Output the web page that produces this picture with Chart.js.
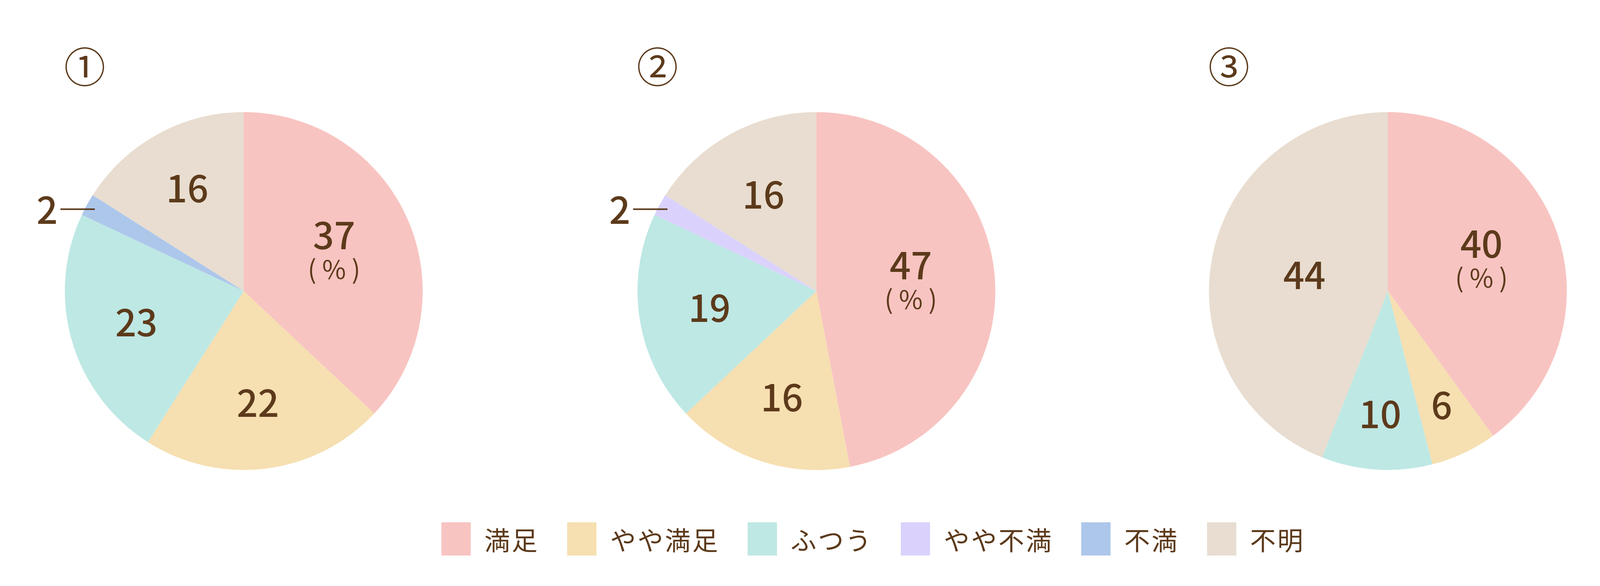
<!DOCTYPE html>
<html lang="ja">
<head>
<meta charset="utf-8">
<script src="https://cdn.jsdelivr.net/npm/chart.js@4/dist/chart.umd.min.js"></script>
<style>
  html, body { margin: 0; padding: 0; background: #fff; }
  #page { position: relative; width: 4167px; height: 1500px; overflow: hidden; font-family: "Noto Sans CJK JP", "Noto Sans", sans-serif; }
  .pie { position: absolute; top: 0; width: 1200px; height: 1300px; }
  #legend { position: absolute; left: 1130px; top: 1337px; display: flex; align-items: center; }
  .item { display: flex; align-items: center; margin-right: 72px; }
  .swatch { width: 75px; height: 85px; }
  .name { margin-left: 35px; font-size: 66px; letter-spacing: 4px; color: #5c3a1b; line-height: 85px; }
</style>
</head>
<body>
<div id="page">
  <div class="pie" style="left:24px"><canvas id="pie1"></canvas></div>
  <div class="pie" style="left:1490px"><canvas id="pie2"></canvas></div>
  <div class="pie" style="left:2953px"><canvas id="pie3"></canvas></div>
  <div id="legend"></div>
</div>
<script>
// answer categories (clockwise from 12 o'clock)
const categories = ['満足', 'やや満足', 'ふつう', 'やや不満', '不満', '不明'];
// percent values per survey
const values1 = [37, 22, 23, 0, 2, 16];
const values2 = [47, 16, 19, 2, 0, 16];
const values3 = [40, 6, 10, 0, 0, 44];
const titles = ['①', '②', '③'];
const unitLabel = '( % )';

const colors = ['#f8c4c1', '#f6dfb1', '#bee8e4', '#dad2fc', '#adc7eb', '#e8ddd0'];
const textColor = '#5c3a1b';
const fontFamily = '"Noto Sans CJK JP", "Noto Sans", sans-serif';

// draws the numbers inside the slices, the leader for tiny ones and the circled title
const sliceLabels = {
  id: 'sliceLabels',
  afterDatasetsDraw(chart, args, opts) {
    const ctx = chart.ctx;
    const meta = chart.getDatasetMeta(0);
    const data = chart.data.datasets[0].data;
    let cx = 0, cy = 0;
    ctx.save();
    ctx.fillStyle = textColor;
    ctx.strokeStyle = textColor;
    ctx.textBaseline = 'middle';
    meta.data.forEach((arc, i) => {
      const v = data[i];
      const p = arc.getProps(['x', 'y', 'startAngle', 'endAngle', 'outerRadius'], true);
      cx = p.x; cy = p.y;
      if (!v) return;
      const a = (p.startAngle + p.endAngle) / 2;
      ctx.font = '500 95px ' + fontFamily;
      if (v < opts.minInside) {
        const px = p.x + Math.cos(a) * p.outerRadius * 0.95;
        const py = p.y + Math.sin(a) * p.outerRadius * 0.95;
        ctx.lineWidth = 4;
        ctx.beginPath();
        ctx.moveTo(px, py);
        ctx.lineTo(px - 88, py);
        ctx.stroke();
        ctx.textAlign = 'right';
        ctx.fillText(String(v), px - 95, py + 2);
        return;
      }
      const r = p.outerRadius * opts.radius[i];
      const lx = p.x + Math.cos(a) * r;
      const ly = p.y + Math.sin(a) * r;
      ctx.textAlign = 'center';
      if (i === 0) {
        ctx.fillText(String(v), lx, ly - 43);
        ctx.font = '400 66px ' + fontFamily;
        ctx.fillText(unitLabel, lx, ly + 44);
      } else {
        ctx.fillText(String(v), lx, ly);
      }
    });
    ctx.textAlign = 'center';
    ctx.font = '400 106px ' + fontFamily;
    ctx.fillText(opts.title, cx - 407, 171);
    ctx.restore();
  }
};

function makePie(id, values, title, radius) {
  return new Chart(document.getElementById(id), {
    type: 'pie',
    data: {
      labels: categories,
      datasets: [{
        data: values,
        backgroundColor: colors,
        borderWidth: 0
      }]
    },
    options: {
      responsive: true,
      maintainAspectRatio: false,
      animation: false,
      layout: { padding: { left: 142, right: 142, top: 287, bottom: 97 } },
      plugins: {
        legend: { display: false },
        tooltip: { enabled: false },
        sliceLabels: { title: title, minInside: 3, radius: radius }
      }
    },
    plugins: [sliceLabels]
  });
}

makePie('pie1', values1, titles[0], [0.55, 0.63, 0.625, 0.62, 0.62, 0.655]);
makePie('pie2', values2, titles[1], [0.53, 0.625, 0.605, 0.62, 0.62, 0.615]);
makePie('pie3', values3, titles[2], [0.55, 0.705, 0.69, 0.62, 0.62, 0.475]);

// legend
const legend = document.getElementById('legend');
categories.forEach((name, i) => {
  const item = document.createElement('div');
  item.className = 'item';
  const sw = document.createElement('div');
  sw.className = 'swatch';
  sw.style.background = colors[i];
  const tx = document.createElement('span');
  tx.className = 'name';
  tx.textContent = name;
  item.appendChild(sw);
  item.appendChild(tx);
  legend.appendChild(item);
});
</script>
</body>
</html>
